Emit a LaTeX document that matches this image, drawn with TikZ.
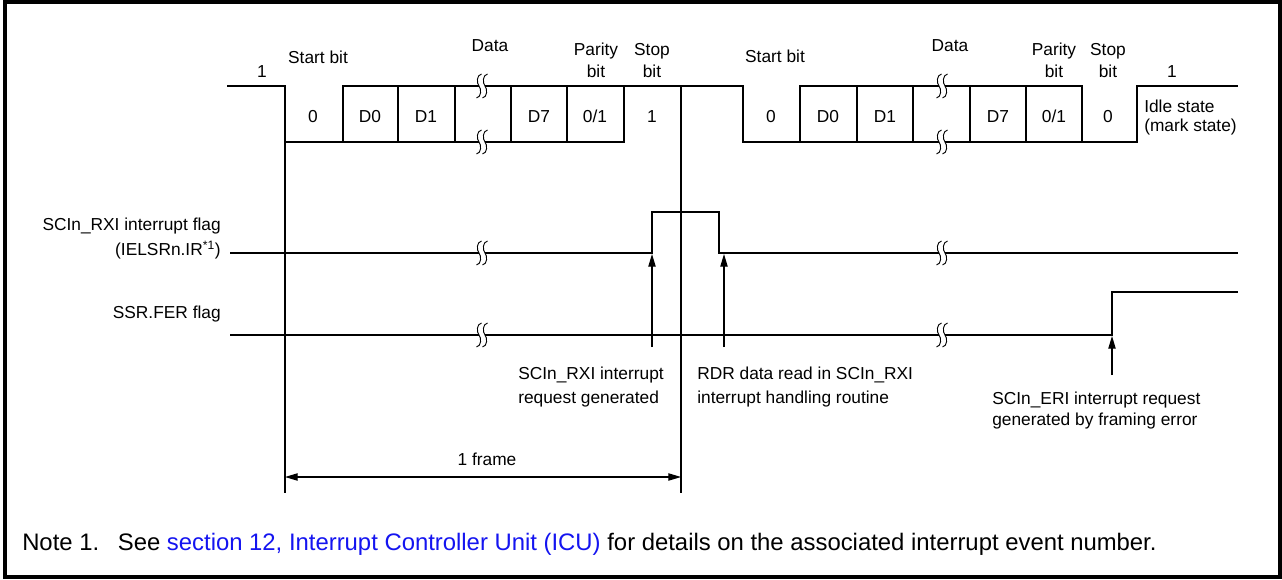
\documentclass[tikz,border=0pt]{standalone}
\usepackage{fontspec}
\setmainfont{Liberation Sans}
\usetikzlibrary{arrows.meta}
\definecolor{linkblue}{RGB}{20,20,240}
\tikzset{
  wave/.style={line width=1.1pt, line join=miter},
  marker/.style={line width=0.8pt},
  lbl/.style={inner sep=0pt, font=\fontsize{13}{16.3}\selectfont},
  cell/.style={lbl, anchor=base, align=center},
  brkline/.style={line width=0.7pt},
  uparrow/.style={marker, -{Triangle[length=9.5pt,width=5.5pt]}},
}
\newcommand\wavebreak[2]{%
  \fill[white] (#1-3,#2-2.2) rectangle (#1+3,#2+2.2);
  \foreach \cx in {#1-3,#1+3}{%
    \draw[brkline] (\cx+2.5,#2-12) .. controls (\cx-2.5,#2-11) and (\cx-2.5,#2-3) .. (\cx,#2)
      .. controls (\cx+2.5,#2+3) and (\cx+2.5,#2+11) .. (\cx-2.5,#2+12);
  }}
\begin{document}
\begin{tikzpicture}[x=0.75pt,y=-0.75pt]
\useasboundingbox (0,0) rectangle (1282,579);
\draw[line width=2.4pt] (5,2) rectangle (1280,577);

% ---- serial data line ----
\draw[wave] (227,86) -- (285,86) -- (285,142) -- (624,142) -- (624,86);
\draw[wave] (343,142) -- (343,86) -- (743,86) -- (743,142) -- (1137,142) -- (1137,86) -- (1238,86);
\draw[wave] (800,142) -- (800,86) -- (1082,86) -- (1082,142);
\foreach \x in {398,455,511,567,857,913,970,1026}
  \draw[wave] (\x,86) -- (\x,142);

% ---- interrupt flag and FER flag ----
\draw[wave] (230,253) -- (652,253) -- (652,212) -- (719,212) -- (719,253) -- (1238,253);
\draw[wave] (230,335) -- (1112,335) -- (1112,292) -- (1238,292);

% ---- frame markers ----
\draw[marker] (285,142) -- (285,493);
\draw[marker] (681,86) -- (681,493);

% ---- breaks ----
\foreach \bx in {482,942}{%
  \foreach \by in {86,142,253,335}{%
    \wavebreak{\bx}{\by}}}

% ---- texts at top ----
\node[cell] (one1) at (262,77) {1};
\node[cell] (sb1) at (318,63) {Start bit};
\node[cell] (data1) at (490,51) {Data};
\node[cell] (par1) at (596,77) {Parity\\bit};
\node[cell] (stop1) at (652,77) {Stop\\bit};
\node[cell] (sb2) at (775,62) {Start bit};
\node[cell] (data2) at (950,51) {Data};
\node[cell] (par2) at (1054,77) {Parity\\bit};
\node[cell] (stop2) at (1108,77) {Stop\\bit};
\node[cell] (one2) at (1172,77) {1};
\node[lbl, anchor=base west, align=left, font=\fontsize{13}{13.8}\selectfont] (idle) at (1144,131) {Idle state\\(mark state)};

% ---- cell contents ----
\node[cell] (c1) at (313,122) {0};
\node[cell] (c2) at (370,122) {D0};
\node[cell] (c3) at (426,122) {D1};
\node[cell] (c4) at (539,122) {D7};
\node[cell] (c5) at (595,122) {0/1};
\node[cell] (c6) at (652,122) {1};
\node[cell] (d1) at (771,122) {0};
\node[cell] (d2) at (828,122) {D0};
\node[cell] (d3) at (885,122) {D1};
\node[cell] (d4) at (998,122) {D7};
\node[cell] (d5) at (1054,122) {0/1};
\node[cell] (d6) at (1108,122) {0};

% ---- signal names ----
\node[lbl, anchor=base east, align=right, font=\fontsize{13}{19}\selectfont] (rxilbl) at (221,255.5) {SCIn\_RXI interrupt flag\\(IELSRn.IR\textsuperscript{*1})};
\node[lbl, anchor=base east] (ferlbl) at (221,318) {SSR.FER flag};

% ---- event arrows ----
\coordinate (rxiS) at (652,347);  \coordinate (rxiT) at (652,254);
\coordinate (rdrS) at (724,347);  \coordinate (rdrT) at (724,254);
\coordinate (eriS) at (1112,375); \coordinate (eriT) at (1112,336);
\draw[uparrow] (rxiS) -- (rxiT);
\draw[uparrow] (rdrS) -- (rdrT);
\draw[uparrow] (eriS) -- (eriT);

\node[lbl, anchor=base west, align=left, font=\fontsize{13}{18}\selectfont] (rxireq) at (518,403) {SCIn\_RXI interrupt\\request generated};
\node[lbl, anchor=base west, align=left, font=\fontsize{13}{18}\selectfont] (rdr) at (697,403) {RDR data read in SCIn\_RXI\\interrupt handling routine};
\node[lbl, anchor=base west, align=left, font=\fontsize{13}{15.75}\selectfont] (eri) at (992,425) {SCIn\_ERI interrupt request\\generated by framing error};

% ---- frame length ----
\coordinate (fl) at (285,477);
\coordinate (fr) at (681,477);
\draw[marker, {Triangle[length=9.5pt,width=5.5pt]}-{Triangle[length=9.5pt,width=5.5pt]}] (fl) -- (fr);
\node[cell] (frame) at (487,465) {1 frame};

% ---- note ----
\node[inner sep=0pt, anchor=base west, font=\fontsize{17.9}{20}\selectfont] (note) at (22,550)
  {Note 1.\hspace{14pt}See \textcolor{linkblue}{section 12, Interrupt Controller Unit (ICU)} for details on the associated interrupt event number.};
\end{tikzpicture}
\end{document}
